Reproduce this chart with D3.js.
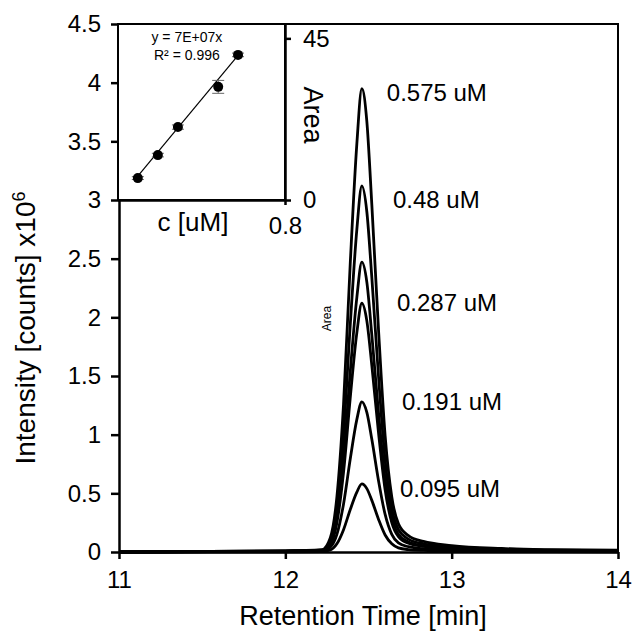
<!DOCTYPE html>
<html>
<head>
<meta charset="utf-8">
<style>
  body { margin: 0; background: #fff; }
  text { font-family: "Liberation Sans", Arial, sans-serif; fill: #000; }
</style>
</head>
<body>
<svg width="633" height="634"></svg>
<script src="https://d3js.org/d3.v7.min.js"></script>
<script>
  // retention time grid [min] shared by all traces
  var rt = [11.00, 12.00, 12.22, 12.27, 12.31, 12.35, 12.39, 12.43, 12.46, 12.49, 12.52,
            12.56, 12.60, 12.64, 12.68, 12.74, 12.83, 13.00, 13.30, 13.60, 14.00];

  // intensity x10^6, one array per injection
  var trace575 = [0, 0.01, 0.02, 0.12, 0.47, 1.26, 2.45, 3.48, 3.95, 3.67, 2.96, 1.90, 0.99, 0.47, 0.24, 0.14, 0.09, 0.055, 0.03, 0.02, 0.015];
  var trace480 = [0, 0.01, 0.016, 0.09, 0.37, 1.00, 1.93, 2.75, 3.12, 2.90, 2.34, 1.50, 0.78, 0.37, 0.19, 0.11, 0.07, 0.044, 0.025, 0.016, 0.012];
  var traceRep = [0, 0.008, 0.012, 0.07, 0.30, 0.79, 1.53, 2.17, 2.47, 2.30, 1.85, 1.19, 0.62, 0.30, 0.15, 0.086, 0.054, 0.035, 0.02, 0.012, 0.01];
  var trace287 = [0, 0.006, 0.01, 0.06, 0.25, 0.68, 1.31, 1.87, 2.12, 1.97, 1.59, 1.02, 0.53, 0.25, 0.13, 0.074, 0.047, 0.03, 0.017, 0.01, 0.008];
  var trace191 = [0, 0.004, 0.006, 0.04, 0.15, 0.41, 0.79, 1.13, 1.28, 1.19, 0.96, 0.61, 0.32, 0.15, 0.077, 0.045, 0.028, 0.018, 0.01, 0.006, 0.005];
  var trace095 = [0, 0.002, 0.003, 0.017, 0.07, 0.19, 0.36, 0.51, 0.58, 0.54, 0.44, 0.28, 0.145, 0.07, 0.035, 0.02, 0.013, 0.008, 0.005, 0.003, 0.002];
  var traces = [trace575, trace480, traceRep, trace287, trace191, trace095];

  var concLabels = ["0.575 uM", "0.48 uM", "0.287 uM", "0.191 uM", "0.095 uM"];
  var labelRt = [12.61, 12.647, 12.671, 12.701, 12.689];
  var labelInt = [3.844, 2.932, 2.054, 1.21, 0.469];

  var xTicks = [11, 12, 13, 14];
  var yTicks = [0, 0.5, 1, 1.5, 2, 2.5, 3, 3.5, 4, 4.5];

  // calibration inset
  var calConc = [0.095, 0.191, 0.287, 0.48, 0.575];
  var calArea = [6.1, 12.5, 20.3, 31.5, 40.4];
  var calErr = [0.4, 0.5, 0.6, 1.8, 0.5];
  var fitSlope = 70;
  var fitRange = [0.084, 0.58];

  var svg = d3.select("svg"),
      margin = {top: 24, right: 15, bottom: 82, left: 119},
      width = 618 - margin.left,
      height = 552 - margin.top;

  var x = d3.scaleLinear().domain([11, 14]).range([margin.left, margin.left + width]);
  var y = d3.scaleLinear().domain([0, 4.5]).range([margin.top + height, margin.top]);

  var line = d3.line()
      .x(function(d) { return x(d[0]); })
      .y(function(d) { return y(d[1]); })
      .curve(d3.curveMonotoneX);

  svg.append("g").selectAll("path")
    .data(traces)
    .enter().append("path")
      .attr("fill", "none")
      .attr("stroke", "#000")
      .attr("stroke-width", 2.8)
      .attr("stroke-linejoin", "round")
      .attr("d", function(t) { return line(rt.map(function(r, i) { return [r, t[i]]; })); });

  // frame top + right
  svg.append("path")
      .attr("fill", "none")
      .attr("stroke", "#000")
      .attr("stroke-width", 2)
      .attr("d", "M" + x(11) + "," + y(4.5) + "H" + x(14) + "V" + y(0));

  var xAxis = svg.append("g")
      .attr("transform", "translate(0," + y(0) + ")")
      .call(d3.axisBottom(x).tickValues(xTicks).tickSize(7).tickSizeOuter(0).tickPadding(12).tickFormat(d3.format("d")));
  var yAxis = svg.append("g")
      .attr("transform", "translate(" + x(11) + ",0)")
      .call(d3.axisLeft(y).tickValues(yTicks).tickSize(8).tickSizeOuter(0).tickPadding(10).tickFormat(d3.format("~g")));

  [xAxis, yAxis].forEach(function(a) {
    a.attr("font-size", 24).attr("font-family", null);
    a.selectAll("path, line").attr("stroke", "#000").attr("stroke-width", 2.5);
  });

  svg.append("text")
      .attr("x", 363).attr("y", 625)
      .attr("text-anchor", "middle")
      .attr("font-size", 27)
      .text("Retention Time [min]");

  var yl = svg.append("text")
      .attr("transform", "translate(35,328) rotate(-90)")
      .attr("text-anchor", "middle")
      .attr("font-size", 28)
      .text("Intensity [counts] x10");
  yl.append("tspan").attr("font-size", 18).attr("dy", -10).text("6");

  svg.append("g").selectAll("text")
    .data(concLabels)
    .enter().append("text")
      .attr("x", function(d, i) { return x(labelRt[i]); })
      .attr("y", function(d, i) { return y(labelInt[i]); })
      .attr("font-size", 24)
      .text(function(d) { return d; });

  svg.append("text")
      .attr("transform", "translate(" + (x(12.25) + 4) + "," + y(1.99) + ") rotate(-90)")
      .attr("text-anchor", "middle")
      .attr("font-size", 12)
      .text("Area");

  // inset
  var ix = d3.scaleLinear().domain([0, 0.8]).range([118, 285]);
  var iy = d3.scaleLinear().domain([0, 49]).range([200, 24]);
  var inset = svg.append("g");

  inset.append("rect")
      .attr("x", ix(0)).attr("y", iy(49))
      .attr("width", ix(0.8) - ix(0)).attr("height", iy(0) - iy(49))
      .attr("fill", "#fff")
      .attr("stroke", "#000")
      .attr("stroke-width", 2);

  var iyAxis = inset.append("g")
      .attr("transform", "translate(" + ix(0.8) + ",0)")
      .call(d3.axisRight(iy).tickValues([0, 45]).tickSize(6).tickSizeOuter(0).tickPadding(12));
  var ixAxis = inset.append("g")
      .attr("transform", "translate(0," + iy(0) + ")")
      .call(d3.axisBottom(ix).tickValues([0.8]).tickSize(5).tickSizeOuter(0).tickPadding(12));
  [iyAxis, ixAxis].forEach(function(a) {
    a.attr("font-size", 24).attr("font-family", null);
    a.selectAll("path, line").attr("stroke", "#000").attr("stroke-width", 2.5);
  });

  inset.append("text")
      .attr("x", 193).attr("y", 231)
      .attr("text-anchor", "middle")
      .attr("font-size", 26)
      .text("c [uM]");
  inset.append("text")
      .attr("transform", "translate(304,115) rotate(90)")
      .attr("text-anchor", "middle")
      .attr("font-size", 27)
      .text("Area");

  inset.append("line")
      .attr("x1", ix(fitRange[0])).attr("y1", iy(fitSlope * fitRange[0]))
      .attr("x2", ix(fitRange[1])).attr("y2", iy(fitSlope * fitRange[1]))
      .attr("stroke", "#000")
      .attr("stroke-width", 1.2);

  var eb = inset.append("g").attr("stroke", "#666").attr("stroke-width", 1);
  calConc.forEach(function(c, i) {
    eb.append("line").attr("x1", ix(c)).attr("x2", ix(c))
      .attr("y1", iy(calArea[i] - calErr[i])).attr("y2", iy(calArea[i] + calErr[i]));
    [-1, 1].forEach(function(s) {
      eb.append("line").attr("x1", ix(c) - 6).attr("x2", ix(c) + 6)
        .attr("y1", iy(calArea[i] + s * calErr[i])).attr("y2", iy(calArea[i] + s * calErr[i]));
    });
  });

  inset.append("g").selectAll("circle")
    .data(calConc)
    .enter().append("circle")
      .attr("cx", function(d) { return ix(d); })
      .attr("cy", function(d, i) { return iy(calArea[i]); })
      .attr("r", 5)
      .attr("fill", "#000");

  inset.append("text")
      .attr("x", ix(0.33)).attr("y", iy(44.0))
      .attr("text-anchor", "middle")
      .attr("font-size", 14)
      .text("y = 7E+07x");
  inset.append("text")
      .attr("x", ix(0.33)).attr("y", iy(39.0))
      .attr("text-anchor", "middle")
      .attr("font-size", 14)
      .text("R² = 0.996");
</script>
</body>
</html>
